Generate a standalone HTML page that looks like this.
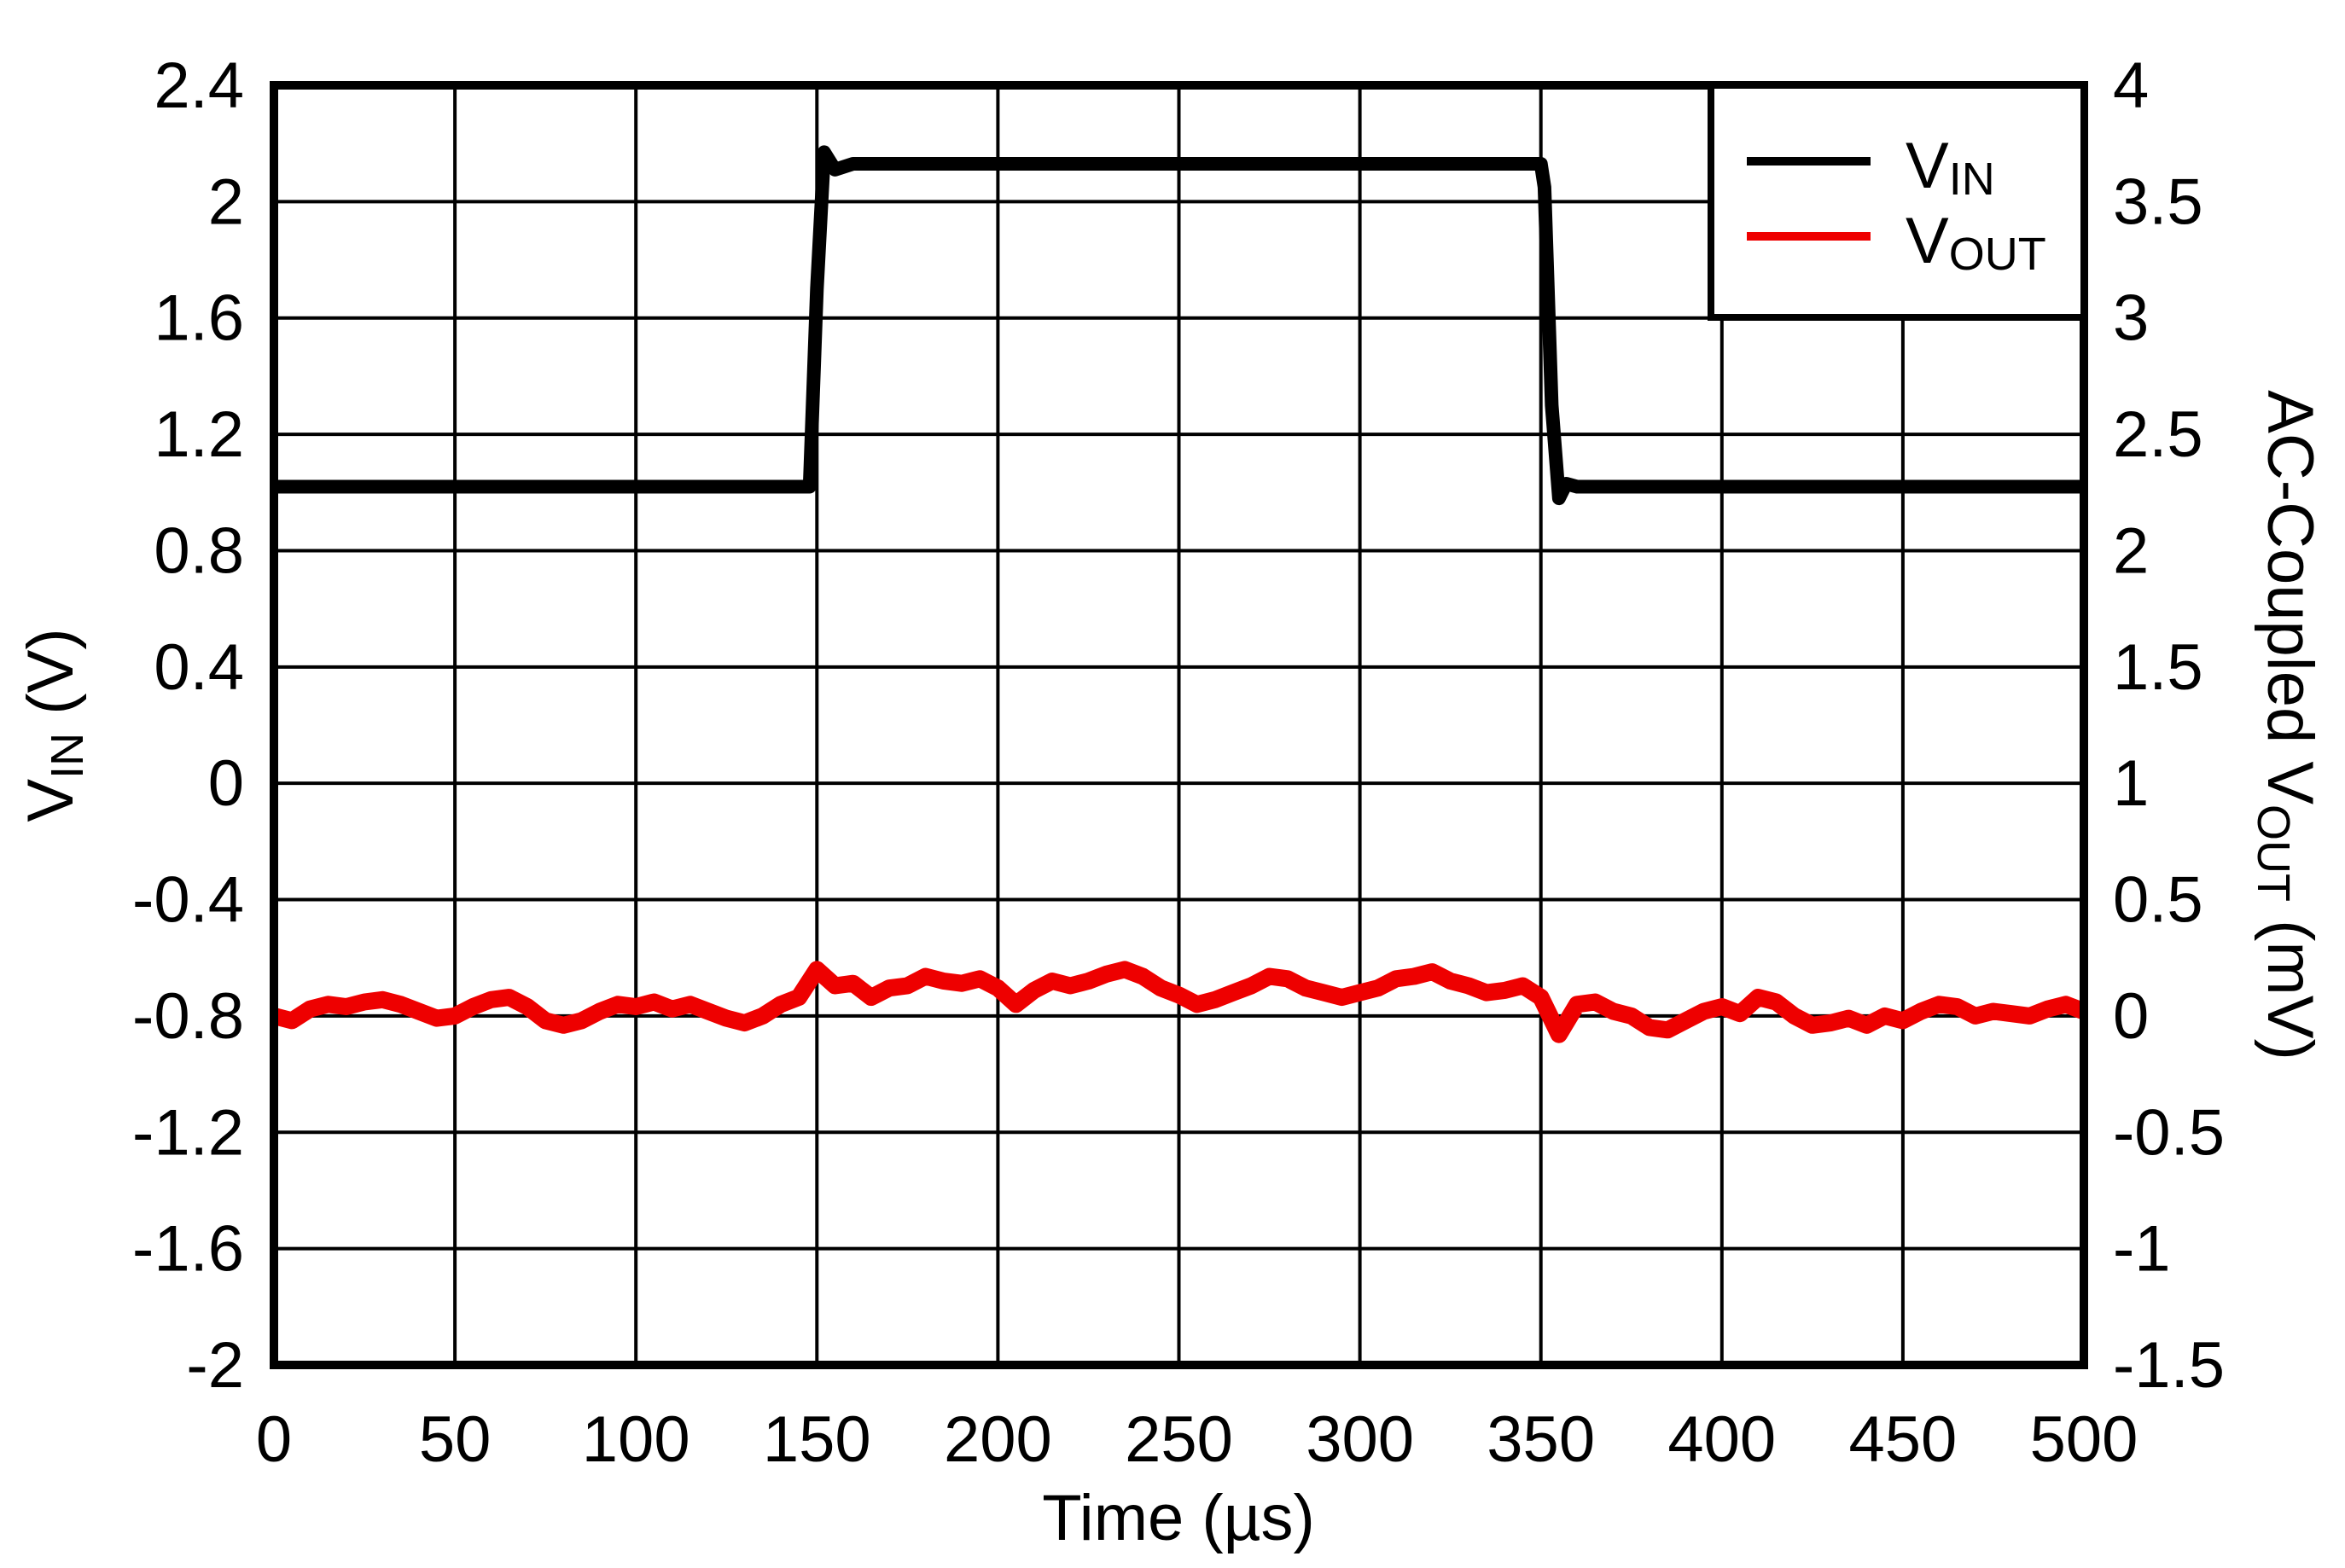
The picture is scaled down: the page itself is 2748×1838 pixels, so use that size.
<!DOCTYPE html>
<html><head><meta charset="utf-8"><style>
html,body{margin:0;padding:0;background:#fff;}
svg text{font-family:"Liberation Sans",Arial,sans-serif;fill:#000;}
</style></head><body>
<svg id="chart" width="2748" height="1833" viewBox="0 0 2748 1833" xmlns="http://www.w3.org/2000/svg">
<g id="grid"></g>
<g id="series"></g>
<rect x="321" y="100" width="2121" height="1500" fill="none" stroke="#000" stroke-width="10"/>
<g id="ticks" font-size="76"></g>
<text x="1381" y="1805" font-size="76" text-anchor="middle">Time (µs)</text>
<text transform="translate(85,850) rotate(-90)" font-size="76" text-anchor="middle">V<tspan font-size="54" dy="12">IN</tspan><tspan dy="-12"> (V)</tspan></text>
<text transform="translate(2658,850) rotate(90)" font-size="76" text-anchor="middle">AC-Coupled V<tspan font-size="54" dy="12">OUT</tspan><tspan dy="-12"> (mV)</tspan></text>
<g>
<rect x="2005" y="100" width="437" height="272" fill="#fff" stroke="#000" stroke-width="8"/>
<line x1="2047" y1="189" x2="2192" y2="189" stroke="#000" stroke-width="10"/>
<text x="2233" y="220" font-size="76">V<tspan font-size="54" dy="8">IN</tspan></text>
<line x1="2047" y1="277" x2="2192" y2="277" stroke="#ee0000" stroke-width="10"/>
<text x="2233" y="308" font-size="76">V<tspan font-size="54" dy="8">OUT</tspan></text>
</g>
</svg>
<script>
const xTicks=[0,50,100,150,200,250,300,350,400,450,500];
const yTicks=[2.4,2,1.6,1.2,0.8,0.4,0,-0.4,-0.8,-1.2,-1.6,-2];
const y2Ticks=[4,3.5,3,2.5,2,1.5,1,0.5,0,-0.5,-1,-1.5];
const vinT=[0,148,150,152,153,155,160,350,351,353,355,357,360,500];
const vinV=[1.02,1.02,1.7,2.17,2.15,2.11,2.13,2.13,2.05,1.3,0.98,1.03,1.02,1.02];
const voutT=[0,5,10,15,20,25,30,35,40,45,50,55,60,65,70,75,80,85,90,95,100,105,110,115,120,125,130,135,140,145,150,155,160,165,170,175,180,185,190,195,200,205,210,215,220,225,230,235,240,245,250,255,260,265,270,275,280,285,290,295,300,305,310,315,320,325,330,335,340,345,350,355,360,365,370,375,380,385,390,395,400,405,410,415,420,425,430,435,440,445,450,455,460,465,470,475,480,485,490,495,500];
const voutV=[0,-0.02,0.03,0.05,0.04,0.06,0.07,0.05,0.02,-0.01,0,0.04,0.07,0.08,0.04,-0.02,-0.04,-0.02,0.02,0.05,0.04,0.06,0.03,0.05,0.02,-0.01,-0.03,0,0.05,0.08,0.2,0.13,0.14,0.08,0.12,0.13,0.17,0.15,0.14,0.16,0.12,0.05,0.11,0.15,0.13,0.15,0.18,0.2,0.17,0.12,0.09,0.05,0.07,0.1,0.13,0.17,0.16,0.12,0.1,0.08,0.1,0.12,0.16,0.17,0.19,0.15,0.13,0.1,0.11,0.13,0.08,-0.08,0.05,0.06,0.02,0,-0.05,-0.06,-0.02,0.02,0.04,0.01,0.08,0.06,0,-0.04,-0.03,-0.01,-0.04,0,-0.02,0.02,0.05,0.04,0,0.02,0.01,0,0.03,0.05,0.02];
const L=321,R=2442,T=100,B=1600;
const x=t=>L+(t-0)/(500-0)*(R-L);
const y=v=>T+(2.4-v)/(2.4+2)*(B-T);
const y2=v=>T+(4-v)/(4+1.5)*(B-T);
const NS='http://www.w3.org/2000/svg';
const grid=document.getElementById('grid'),ticks=document.getElementById('ticks'),ser=document.getElementById('series');
function mk(tag,at,parent){const e=document.createElementNS(NS,tag);for(const k in at)e.setAttribute(k,at[k]);parent.appendChild(e);return e;}
xTicks.forEach(t=>{
  const g=mk('line',{x1:x(t),x2:x(t),y1:T,y2:B,stroke:'#000','stroke-width':4},grid);
  
  
  const tx=mk('text',{x:x(t),y:1713,'text-anchor':'middle'},ticks);tx.textContent=t;
  
  
});
yTicks.forEach(v=>{
  const g=mk('line',{x1:L,x2:R,y1:y(v),y2:y(v),stroke:'#000','stroke-width':4},grid);
  
  
  const tx=mk('text',{x:286,y:y(v)+26,'text-anchor':'end'},ticks);tx.textContent=v;
  
  
});
y2Ticks.forEach(v=>{
  const tx=mk('text',{x:2476,y:y2(v)+26,'text-anchor':'start'},ticks);tx.textContent=v;
  
  
});
const pv=mk('path',{d:voutT.map((t,i)=>(i?'L':'M')+x(t).toFixed(1)+' '+y2(voutV[i]).toFixed(1)).join(' '),fill:'none',stroke:'#ee0000','stroke-width':20,'stroke-linejoin':'round'},ser);


const pi=mk('path',{d:vinT.map((t,i)=>(i?'L':'M')+x(t).toFixed(1)+' '+y(vinV[i]).toFixed(1)).join(' '),fill:'none',stroke:'#000','stroke-width':16,'stroke-linejoin':'round'},ser);


</script>
</body></html>
